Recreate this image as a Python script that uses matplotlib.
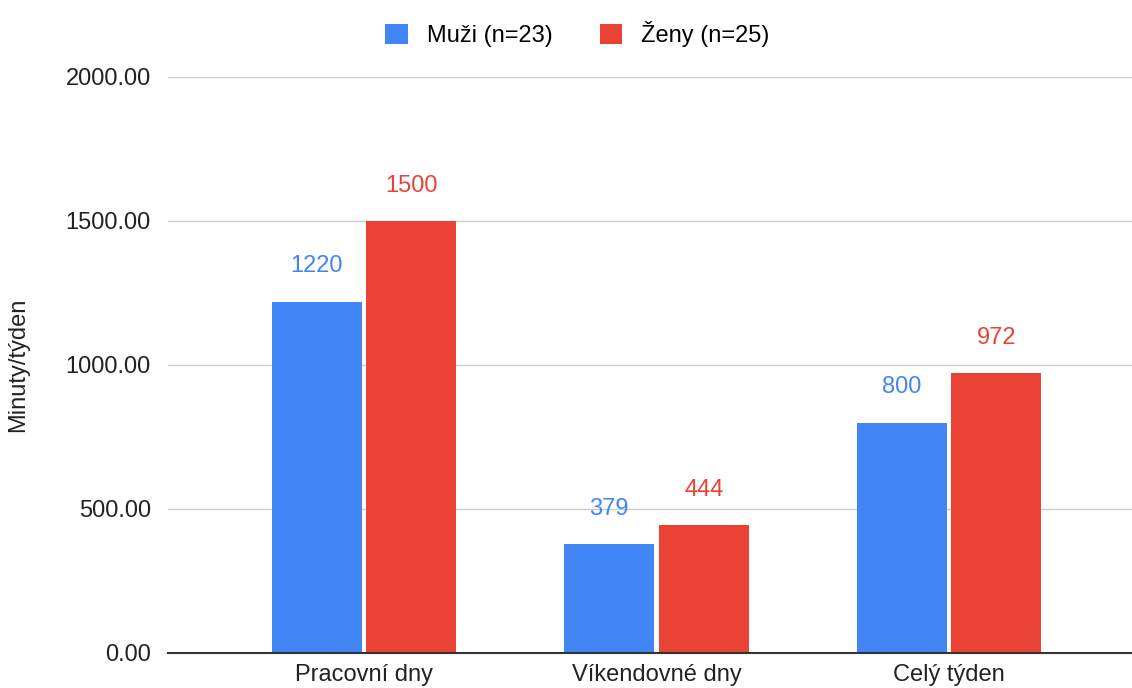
import matplotlib.pyplot as plt
import numpy as np

plt.rcParams['font.family'] = ['Liberation Sans', 'DejaVu Sans']

categories = ['Pracovní dny', 'Víkendovné dny', 'Celý týden']
muzi = [1220, 379, 800]
zeny = [1500, 444, 972]
series_names = ['Muži (n=23)', 'Ženy (n=25)']
blue = '#4285F4'
red = '#EA4335'

fig = plt.figure(figsize=(11.32, 6.88), dpi=100)
ax = fig.add_axes([0.148, 0.0509, 0.852, 0.8372])

x = np.arange(len(categories))
w = 0.308
off = 0.162
b1 = ax.bar(x - off, muzi, w, color=blue, label=series_names[0], zorder=3)
b2 = ax.bar(x + off, zeny, w, color=red, label=series_names[1], zorder=3)

for xi, v in zip(x - off, muzi):
    ax.text(xi, v + 122, str(v), ha='center', va='center', color=blue, fontsize=17)
for xi, v in zip(x + off, zeny):
    ax.text(xi, v + 122, str(v), ha='center', va='center', color=red, fontsize=17)

ax.set_ylim(0, 2000)
ax.set_xlim(-0.672, 2.626)
ax.set_yticks([0, 500, 1000, 1500, 2000])
ax.set_yticklabels([f'{t:.2f}' for t in [0, 500, 1000, 1500, 2000]])
ax.set_xticks(x)
ax.set_xticklabels(categories)
ax.tick_params(axis='both', length=0, labelsize=17, colors='#222222')
ax.tick_params(axis='x', pad=8)
ax.tick_params(axis='y', pad=12)
ax.grid(axis='y', color='#cccccc', linewidth=1, zorder=0)
for s in ['top', 'right', 'left']:
    ax.spines[s].set_visible(False)
ax.spines['bottom'].set_color('#333333')
ax.spines['bottom'].set_linewidth(1.5)
ax.spines['bottom'].set_zorder(4)

ax.set_ylabel('Minuty/týden', fontsize=17, labelpad=26, color='#222222')

fig.legend(handles=[b1, b2], loc='upper center', bbox_to_anchor=(0.51, 1.0), ncol=2,
           frameon=False, fontsize=17, handlelength=0.95, handleheight=0.95,
           columnspacing=2.0, handletextpad=0.8)

fig.savefig('out.png', dpi=100)
